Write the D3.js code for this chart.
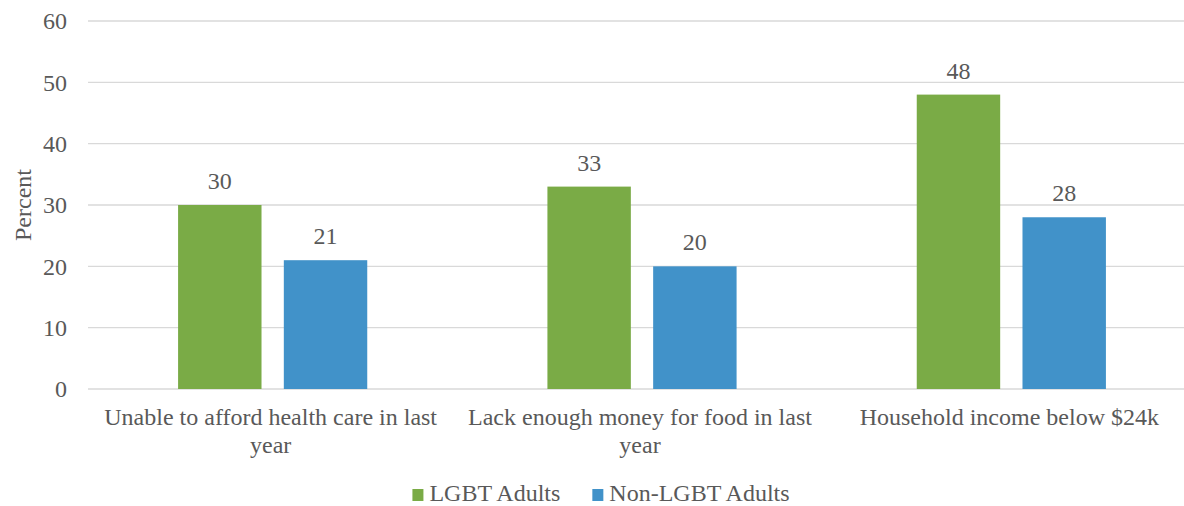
<!DOCTYPE html>
<html lang="en">
<head>
<meta charset="UTF-8">
<title>LGBT economic hardship</title>
<style>
  body { margin: 0; background: #fff; }
  svg text { font-family: "Liberation Serif", "Times New Roman", serif; fill: #595959; font-size: 24px; }
</style>
</head>
<body>
<div id="chart"></div>
<script src="https://d3js.org/d3.v7.min.js"></script>
<script>
    // chart values
    var categories = ["Unable to afford health care in last year", "Lack enough money for food in last year", "Household income below $24k"];
    var seriesNames = ["LGBT Adults", "Non-LGBT Adults"];
    var lgbtValues = [30, 33, 48];
    var nonLgbtValues = [21, 20, 28];
    var yTicks = [0, 10, 20, 30, 40, 50, 60];
    var colors = ["#7aab46", "#4192c9"];

    var width = 1184, height = 506;
    var plot = {left: 88, right: 1196, top: 21, bottom: 389};

    var svg = d3.select("#chart").append("svg")
        .attr("width", width)
        .attr("height", height);

    var x0 = d3.scaleBand().domain(categories).range([plot.left, plot.right]).padding(0);
    var x1 = d3.scaleBand().domain(seriesNames).range([0, x0.bandwidth()])
        .paddingInner(0.211).paddingOuter(0.852);
    var y = d3.scaleLinear().domain([0, 60]).range([plot.bottom, plot.top]);

    // gridlines
    svg.append("g").selectAll("line").data(yTicks).join("line")
        .attr("x1", plot.left).attr("x2", plot.right)
        .attr("y1", d => y(d)).attr("y2", d => y(d))
        .attr("stroke", "#d9d9d9").attr("stroke-width", 1.3);

    // y tick labels
    svg.append("g").selectAll("text").data(yTicks).join("text")
        .attr("x", 67).attr("y", d => y(d))
        .attr("dy", "0.35em")
        .attr("text-anchor", "end")
        .text(d => d);

    // y axis title
    svg.append("text")
        .attr("transform", "translate(31," + ((plot.top + plot.bottom) / 2) + ") rotate(-90)")
        .attr("text-anchor", "middle")
        .text("Percent");

    // bars
    var rows = categories.map((c, i) => ({cat: c, vals: [lgbtValues[i], nonLgbtValues[i]]}));
    var groups = svg.append("g").selectAll("g").data(rows).join("g")
        .attr("transform", d => "translate(" + x0(d.cat) + ",0)");

    groups.selectAll("rect").data(d => d.vals.map((v, j) => ({name: seriesNames[j], v: v, j: j}))).join("rect")
        .attr("x", d => x1(d.name))
        .attr("y", d => y(d.v))
        .attr("width", x1.bandwidth())
        .attr("height", d => y(0) - y(d.v))
        .attr("fill", d => colors[d.j]);

    groups.selectAll("text.val").data(d => d.vals.map((v, j) => ({name: seriesNames[j], v: v}))).join("text")
        .attr("class", "val")
        .attr("x", d => x1(d.name) + x1.bandwidth() / 2)
        .attr("y", d => y(d.v) - 16)
        .attr("text-anchor", "middle")
        .text(d => d.v);

    // category labels, wrapped
    var maxW = 360;
    categories.forEach(function(c) {
        var t = svg.append("text").attr("text-anchor", "middle");
        var cx = x0(c) + x0.bandwidth() / 2 - 2;
        var words = c.split(" ");
        var line = [], lineNo = 0;
        var tspan = t.append("tspan").attr("x", cx).attr("y", 425);
        words.forEach(function(w) {
            line.push(w);
            tspan.text(line.join(" "));
            if (tspan.node().getComputedTextLength() > maxW && line.length > 1) {
                line.pop();
                tspan.text(line.join(" "));
                line = [w];
                lineNo++;
                tspan = t.append("tspan").attr("x", cx).attr("y", 425 + lineNo * 28).text(w);
            }
        });
    });

    // legend
    var legend = svg.append("g");
    var lx = 0;
    seriesNames.forEach(function(s, i) {
        var g = legend.append("g").attr("transform", "translate(" + lx + ",0)");
        g.append("rect").attr("x", 0).attr("y", 489).attr("width", 11).attr("height", 12).attr("fill", colors[i]);
        var t = g.append("text").attr("x", 17).attr("y", 501).text(s);
        lx += 17 + t.node().getComputedTextLength() + 32;
    });
    var lw = legend.node().getBBox().width;
    legend.attr("transform", "translate(" + (601 - lw / 2) + ",0)");
</script>
</body>
</html>
